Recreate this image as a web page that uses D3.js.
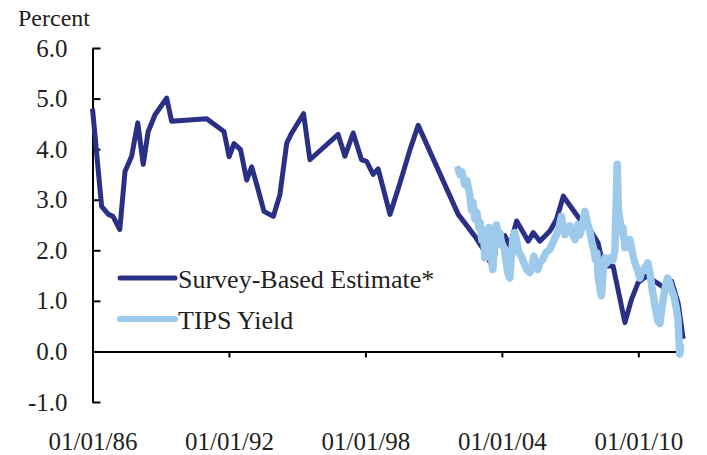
<!DOCTYPE html>
<html>
<head>
<meta charset="utf-8">
<script src="https://cdn.jsdelivr.net/npm/d3@7"></script>
<style>
  body { margin: 0; background: #fff; }
  text { font-family: "Liberation Serif", "Times New Roman", serif; fill: #231f20; }
</style>
</head>
<body>
<script>
// survey-based estimate (decimal year, percent)
var surveyYears = [1986.00, 1986.40, 1986.70, 1986.90, 1987.20, 1987.43, 1987.72, 1987.99, 1988.23, 1988.45,
    1988.75, 1989.26, 1989.48, 1991.02, 1991.78, 1992.01, 1992.22, 1992.51, 1992.78, 1993.00,
    1993.22, 1993.54, 1993.95, 1994.24, 1994.54, 1994.76, 1995.28, 1995.56, 1996.80, 1997.10,
    1997.46, 1997.83, 1998.05, 1998.34, 1998.56, 1999.08, 1999.52, 1999.96, 2000.32, 2002.08,
    2002.81, 2003.18, 2003.62, 2003.77, 2004.13, 2004.35, 2004.65, 2005.16, 2005.38, 2005.67,
    2006.11, 2006.40, 2006.70, 2007.43, 2007.87, 2008.23, 2008.45, 2008.89, 2009.41, 2009.70,
    2009.99, 2010.36, 2010.80, 2011.24, 2011.46, 2011.75, 2011.97];
var surveyValues = [4.80, 2.87, 2.71, 2.67, 2.41, 3.56, 3.86, 4.52, 3.70, 4.35,
    4.68, 5.01, 4.55, 4.60, 4.35, 3.85, 4.11, 3.99, 3.39, 3.65,
    3.30, 2.77, 2.67, 3.10, 4.12, 4.32, 4.70, 3.79, 4.29, 3.86,
    4.32, 3.79, 3.76, 3.50, 3.61, 2.71, 3.33, 3.99, 4.47, 2.71,
    2.28, 2.02, 1.65, 2.21, 2.29, 2.08, 2.58, 2.18, 2.35, 2.18,
    2.38, 2.61, 3.07, 2.61, 2.41, 2.15, 1.69, 1.69, 0.57, 1.03,
    1.36, 1.49, 1.36, 1.23, 1.39, 0.96, 0.25];

// TIPS yield (decimal year, percent)
var tipsYears = [2002.08, 2002.15, 2002.24, 2002.37, 2002.46, 2002.59, 2002.66, 2002.73, 2002.81, 2002.90,
    2002.99, 2003.05, 2003.12, 2003.19, 2003.25, 2003.32, 2003.38, 2003.45, 2003.52, 2003.60,
    2003.67, 2003.76, 2003.85, 2003.91, 2004.00, 2004.09, 2004.18, 2004.26, 2004.35, 2004.42,
    2004.48, 2004.57, 2004.66, 2004.75, 2004.86, 2004.97, 2005.10, 2005.23, 2005.32, 2005.41,
    2005.49, 2005.58, 2005.67, 2005.80, 2005.93, 2006.11, 2006.24, 2006.40, 2006.51, 2006.62,
    2006.68, 2006.77, 2006.86, 2006.99, 2007.08, 2007.21, 2007.34, 2007.43, 2007.52, 2007.65,
    2007.76, 2007.87, 2007.96, 2008.05, 2008.11, 2008.18, 2008.24, 2008.33, 2008.38, 2008.44,
    2008.53, 2008.62, 2008.75, 2008.88, 2008.97, 2009.03, 2009.07, 2009.12, 2009.19, 2009.25,
    2009.32, 2009.41, 2009.49, 2009.63, 2009.74, 2009.85, 2009.96, 2010.07, 2010.15, 2010.29,
    2010.42, 2010.51, 2010.60, 2010.68, 2010.77, 2010.86, 2010.95, 2011.03, 2011.12, 2011.20,
    2011.29, 2011.38, 2011.47, 2011.56, 2011.65, 2011.74, 2011.78, 2011.82, 2011.85];
var tipsValues = [3.60, 3.50, 3.55, 3.30, 3.38, 3.10, 2.80, 2.95, 2.62, 2.75,
    2.45, 2.55, 2.20, 2.40, 1.85, 2.35, 2.15, 2.45, 1.90, 1.62,
    2.10, 2.50, 2.25, 2.35, 2.10, 2.05, 1.80, 1.55, 1.45, 1.90,
    2.20, 2.35, 2.15, 1.95, 1.88, 1.75, 1.62, 1.56, 1.70, 1.88,
    1.70, 1.62, 1.75, 1.82, 1.95, 2.02, 2.15, 2.31, 2.45, 2.67,
    2.50, 2.31, 2.45, 2.48, 2.35, 2.21, 2.51, 2.30, 2.45, 2.77,
    2.55, 2.38, 2.15, 2.00, 1.82, 1.95, 1.45, 1.20, 1.10, 1.50,
    1.85, 1.75, 1.85, 1.80, 2.00, 3.00, 3.70, 2.80, 2.60, 2.35,
    2.45, 2.05, 2.20, 2.21, 1.95, 1.75, 1.62, 1.45, 1.58, 1.65,
    1.75, 1.55, 1.25, 1.05, 0.80, 0.60, 0.55, 0.85, 1.10, 1.30,
    1.45, 1.35, 1.20, 1.10, 0.90, 0.65, 0.30, -0.05, 0.10];

var xTicks = [1986, 1992, 1998, 2004, 2010];
var yTicks = [-1, 0, 1, 2, 3, 4, 5, 6];
var seriesNames = ["Survey-Based Estimate*", "TIPS Yield"];
var seriesColors = ["#2b3087", "#9dc9eb"];

var width = 707, height = 455;

var svg = d3.select("body").append("svg")
    .attr("width", width)
    .attr("height", height);

var x = d3.scaleLinear().domain([1986, 2011.7]).range([92.5, 677]);
var y = d3.scaleLinear().domain([-1, 6]).range([402, 48]);

var survey = surveyYears.map(function (d, i) { return { t: d, v: surveyValues[i] }; });
var tips = tipsYears.map(function (d, i) { return { t: d, v: tipsValues[i] }; });

var line = d3.line()
    .x(function (d) { return x(d.t); })
    .y(function (d) { return y(d.v); });

// y axis, ticks pointing inward
var yAxis = svg.append("g")
    .attr("transform", "translate(" + x(1986) + ",0)")
    .call(d3.axisLeft(y).tickValues(yTicks).tickSizeInner(-8).tickSizeOuter(0)
        .tickPadding(25).tickFormat(function (d) { return d.toFixed(1); }));

// x axis at zero
var xAxis = svg.append("g")
    .attr("transform", "translate(0," + y(0) + ")")
    .call(d3.axisBottom(x).tickValues(xTicks).tickSize(6).tickSizeOuter(0)
        .tickPadding(75).tickFormat(function (d) { return "01/01/" + String(d).slice(2); }));

[yAxis, xAxis].forEach(function (g) {
    g.selectAll("path, line").attr("stroke", "#000").attr("stroke-width", 2);
    g.selectAll("text").style("font-size", "25px").attr("fill", "#231f20")
        .style("font-family", '"Liberation Serif", "Times New Roman", serif');
});

svg.append("text")
    .attr("x", 18).attr("y", 26)
    .style("font-size", "24px")
    .text("Percent");

svg.append("path")
    .datum(survey)
    .attr("fill", "none")
    .attr("stroke", seriesColors[0])
    .attr("stroke-width", 5)
    .attr("stroke-linejoin", "round")
    .attr("d", line);

svg.append("path")
    .datum(tips)
    .attr("fill", "none")
    .attr("stroke", seriesColors[1])
    .attr("stroke-width", 7.5)
    .attr("stroke-linejoin", "round")
    .attr("stroke-linecap", "round")
    .attr("d", line);

// legend
var legend = svg.selectAll(".legend")
    .data(seriesNames)
    .enter().append("g")
    .attr("class", "legend")
    .attr("transform", function (d, i) { return "translate(120," + (278 + i * 41) + ")"; });

legend.append("line")
    .attr("x1", 0).attr("x2", 55)
    .attr("stroke", function (d, i) { return seriesColors[i]; })
    .attr("stroke-width", function (d, i) { return i ? 6 : 5; })
    .attr("stroke-linecap", "round");

legend.append("text")
    .attr("x", 58).attr("y", 10)
    .style("font-size", "26px")
    .text(function (d) { return d; });
</script>
</body>
</html>
